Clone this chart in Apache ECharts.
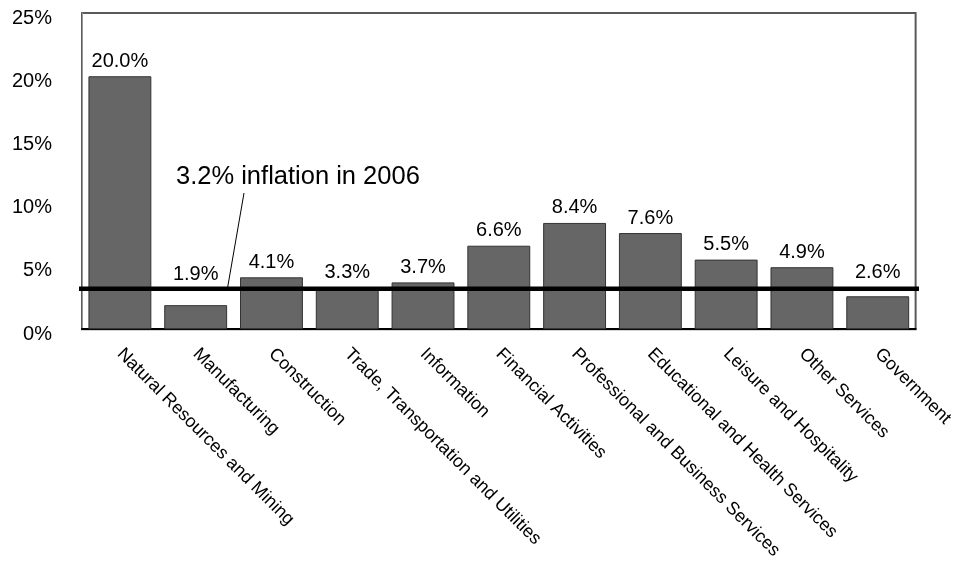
<!DOCTYPE html>
<html>
<head>
<meta charset="utf-8">
<script src="https://cdn.jsdelivr.net/npm/echarts@6/dist/echarts.min.js"></script>
<style>html,body{margin:0;padding:0;background:#fff}#c{width:956px;height:562px}</style>
</head>
<body>
<div id="c"></div>
<script>
const categories = ["Natural Resources and Mining","Manufacturing","Construction","Trade, Transportation and Utilities","Information","Financial Activities","Professional and Business Services","Educational and Health Services","Leisure and Hospitality","Other Services","Government"];
const growth = [20.0, 1.9, 4.1, 3.3, 3.7, 6.6, 8.4, 7.6, 5.5, 4.9, 2.6];
const inflation = 3.2;
const yTicks = [0, 5, 10, 15, 20, 25];
const annotationText = "3.2% inflation in 2006";

const FONT = "'Liberation Sans', Arial, sans-serif";
// labels for bars below inflation line are lifted above it
const labelDist = growth.map(v => v === 1.9 ? 21 : (v === 2.6 ? 14 : 5));

const chart = echarts.init(document.getElementById('c'));
chart.setOption({
  animation: false,
  backgroundColor: '#fff',
  grid: {left: 82, right: 35, top: 13, bottom: 231, show: true, borderColor: '#5a5a5a', borderWidth: 2, containLabel: false},
  xAxis: [{
    type: 'category', data: categories,
    axisLine: {show: true, lineStyle: {color: '#000', width: 2}},
    axisTick: {show: false},
    axisLabel: {interval: 0, rotate: -45, margin: 22, fontSize: 18, fontFamily: FONT, color: '#000'}
  }, {
    type: 'value', min: 0, max: 11, show: false
  }],
  yAxis: {
    type: 'value', min: yTicks[0], max: yTicks[yTicks.length-1], interval: 5,
    axisLine: {show: true, lineStyle: {color: '#9a9a9a', width: 1}},
    axisTick: {show: false},
    splitLine: {show: false},
    axisLabel: {formatter: '{value}%', fontSize: 20, fontFamily: FONT, color: '#000', margin: 30, verticalAlign: 'top', lineHeight: 10}
  },
  series: [{
    type: 'bar',
    data: growth.map((v, i) => ({value: v, label: {distance: labelDist[i]}})),
    barCategoryGap: '17%',
    itemStyle: {color: '#666666', borderColor: '#333333', borderWidth: 1},
    label: {show: true, position: 'top', formatter: p => p.value.toFixed(1) + '%', fontSize: 20, fontFamily: FONT, color: '#000'}
  }, {
    type: 'line',
    xAxisIndex: 1,
    data: [[-0.08, inflation], [11.06, inflation]],
    symbol: 'none', clip: false, z: 5,
    lineStyle: {color: '#000', width: 4.5, cap: 'round'}
  }],
  graphic: [{
    type: 'text', left: 176, top: 164, z: 10,
    style: {text: annotationText, fontSize: 25.5, fontFamily: FONT, fill: '#000'}
  }, {
    type: 'line', z: 10,
    shape: {x1: 244, y1: 193, x2: 227, y2: 291},
    style: {stroke: '#000', lineWidth: 1}
  }]
});
</script>
</body>
</html>
